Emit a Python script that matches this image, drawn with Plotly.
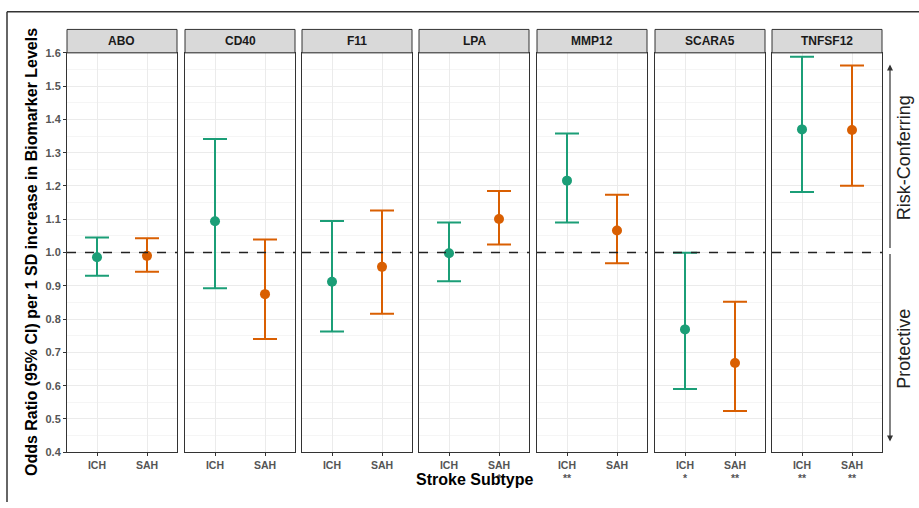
import plotly.graph_objects as go

# ---- data ----
biomarkers = ["ABO", "CD40", "F11", "LPA", "MMP12", "SCARA5", "TNFSF12"]
subtypes = ["ICH", "SAH"]
or_ich = [0.986, 1.094, 0.912, 0.998, 1.216, 0.769, 1.370]
lo_ich = [0.930, 0.893, 0.763, 0.914, 1.090, 0.590, 1.182]
hi_ich = [1.045, 1.341, 1.095, 1.090, 1.358, 0.999, 1.588]
or_sah = [0.990, 0.875, 0.957, 1.101, 1.066, 0.668, 1.368]
lo_sah = [0.942, 0.740, 0.816, 1.024, 0.968, 0.524, 1.201]
hi_sah = [1.043, 1.039, 1.126, 1.185, 1.174, 0.852, 1.562]
stars_ich = ["", "", "", "", "**", "*", "**"]
stars_sah = ["", "", "", "*", "", "**", "**"]
y_ticks = [0.4, 0.5, 0.6, 0.7, 0.8, 0.9, 1.0, 1.1, 1.2, 1.3, 1.4, 1.5, 1.6]

GREEN = "#1B9E77"
ORANGE = "#D95F02"
FONT = "Liberation Sans, Arial, sans-serif"
W, H = 919, 508

fig = go.Figure()

panel_left = [67, 185, 302, 419, 537, 655, 772]
panel_w = 110
plot_top, plot_bot = 48, 457
strip_top = 24

def px_x(x):
    return x / W

def px_y(y):
    return 1 - y / H

shapes = []
annotations = []

for i, bm in enumerate(biomarkers):
    n = i + 1
    xa = "x" if n == 1 else f"x{n}"
    ya = "y" if n == 1 else f"y{n}"
    xkey = "xaxis" if n == 1 else f"xaxis{n}"
    ykey = "yaxis" if n == 1 else f"yaxis{n}"
    x0, x1 = px_x(panel_left[i]), px_x(panel_left[i] + panel_w)

    for j, (orv, lo, hi, col) in enumerate([
        (or_ich[i], lo_ich[i], hi_ich[i], GREEN),
        (or_sah[i], lo_sah[i], hi_sah[i], ORANGE),
    ]):
        fig.add_trace(go.Scatter(
            x=[j + 1], y=[orv], mode="markers",
            marker=dict(color=col, size=10),
            error_y=dict(type="data", symmetric=False,
                         array=[hi - orv], arrayminus=[orv - lo],
                         color=col, thickness=2, width=12),
            xaxis=xa, yaxis=ya, showlegend=False, hoverinfo="skip",
        ))

    ticktext = []
    for s, st in zip(subtypes, [stars_ich[i], stars_sah[i]]):
        ticktext.append(f"<b>{s}</b><br><b>{st}</b>" if st else f"<b>{s}</b>")

    fig.layout[xkey] = dict(
        domain=[x0, x1], range=[0.4, 2.6], anchor=ya,
        tickvals=[1, 2], ticktext=ticktext,
        tickfont=dict(family=FONT, size=10.5, color="#555555"),
        ticks="outside", ticklen=3, tickcolor="#333333",
        showgrid=True, gridcolor="#EBEBEB", gridwidth=1,
        zeroline=False, showline=True, mirror=True,
        linecolor="#333333", linewidth=1, fixedrange=True,
    )
    fig.layout[ykey] = dict(
        domain=[px_y(plot_bot), px_y(plot_top)], range=[0.4, 1.6],
        anchor=xa, tickvals=y_ticks,
        ticktext=[f"<b>{v:.1f}</b>" for v in y_ticks],
        showticklabels=(n == 1),
        tickfont=dict(family=FONT, size=11, color="#555555"),
        ticks="outside" if n == 1 else "", ticklen=3, tickcolor="#333333",
        showgrid=True, gridcolor="#EBEBEB", gridwidth=1,
        minor=dict(tickvals=[v + 0.05 for v in y_ticks[:-1]], showgrid=True,
                   gridcolor="#F5F5F5", gridwidth=1),
        zeroline=False, showline=True, mirror=True,
        linecolor="#333333", linewidth=1, fixedrange=True,
    )

    # dashed reference line at OR = 1
    shapes.append(dict(type="line", xref=f"{xa} domain", yref=ya,
                       x0=0, x1=1, y0=1, y1=1,
                       line=dict(color="#222222", width=1.5, dash="dash")))
    # strip
    shapes.append(dict(type="rect", xref="paper", yref="paper",
                       x0=x0, x1=x1, y0=px_y(plot_top), y1=px_y(strip_top),
                       fillcolor="#D9D9D9",
                       line=dict(color="#333333", width=1)))
    annotations.append(dict(text=f"<b>{bm}</b>", xref="paper", yref="paper",
                            x=(x0 + x1) / 2, y=px_y((strip_top + plot_top) / 2),
                            xanchor="center", yanchor="middle",
                            showarrow=False,
                            font=dict(family=FONT, size=12, color="#1A1A1A")))

# outer frame (top and left edges visible)
shapes.append(dict(type="line", xref="paper", yref="paper",
                   x0=px_x(7), x1=1, y0=px_y(6), y1=px_y(6),
                   line=dict(color="#333333", width=1.5)))
shapes.append(dict(type="line", xref="paper", yref="paper",
                   x0=px_x(7), x1=px_x(7), y0=0, y1=px_y(6),
                   line=dict(color="#333333", width=1.5)))

# axis titles
annotations.append(dict(
    text="<b>Odds Ratio (95% CI) per 1 SD increase in Biomarker Levels</b>",
    xref="paper", yref="paper", x=px_x(31), y=px_y(252),
    xanchor="center", yanchor="middle",
    textangle=-90, showarrow=False,
    font=dict(family=FONT, size=16, color="#000000")))
annotations.append(dict(
    text="<b>Stroke Subtype</b>", xref="paper", yref="paper",
    x=px_x(474.5), y=px_y(485), xanchor="center", yanchor="middle",
    showarrow=False,
    font=dict(family=FONT, size=16, color="#000000")))

# right-side direction labels and arrows
annotations.append(dict(
    text="Risk-Conferring", xref="paper", yref="paper",
    x=px_x(904), y=px_y(156), xanchor="center", yanchor="middle",
    textangle=-90, showarrow=False,
    font=dict(family=FONT, size=18, color="#222222")))
annotations.append(dict(
    text="Protective", xref="paper", yref="paper",
    x=px_x(904), y=px_y(351), xanchor="center", yanchor="middle",
    textangle=-90, showarrow=False,
    font=dict(family=FONT, size=18, color="#222222")))
annotations.append(dict(
    text="", xref="paper", yref="paper", x=px_x(890), y=px_y(60),
    ax=0, ay=185, showarrow=True, arrowhead=2, arrowsize=1,
    arrowwidth=1.2, arrowcolor="#333333"))
annotations.append(dict(
    text="", xref="paper", yref="paper", x=px_x(890), y=px_y(446),
    ax=0, ay=-189, showarrow=True, arrowhead=2, arrowsize=1,
    arrowwidth=1.2, arrowcolor="#333333"))

fig.update_layout(
    width=W, height=H,
    margin=dict(l=0, r=0, t=0, b=0),
    paper_bgcolor="white", plot_bgcolor="white",
    shapes=shapes, annotations=annotations,
    font=dict(family=FONT),
)

fig.write_html("out.html")
